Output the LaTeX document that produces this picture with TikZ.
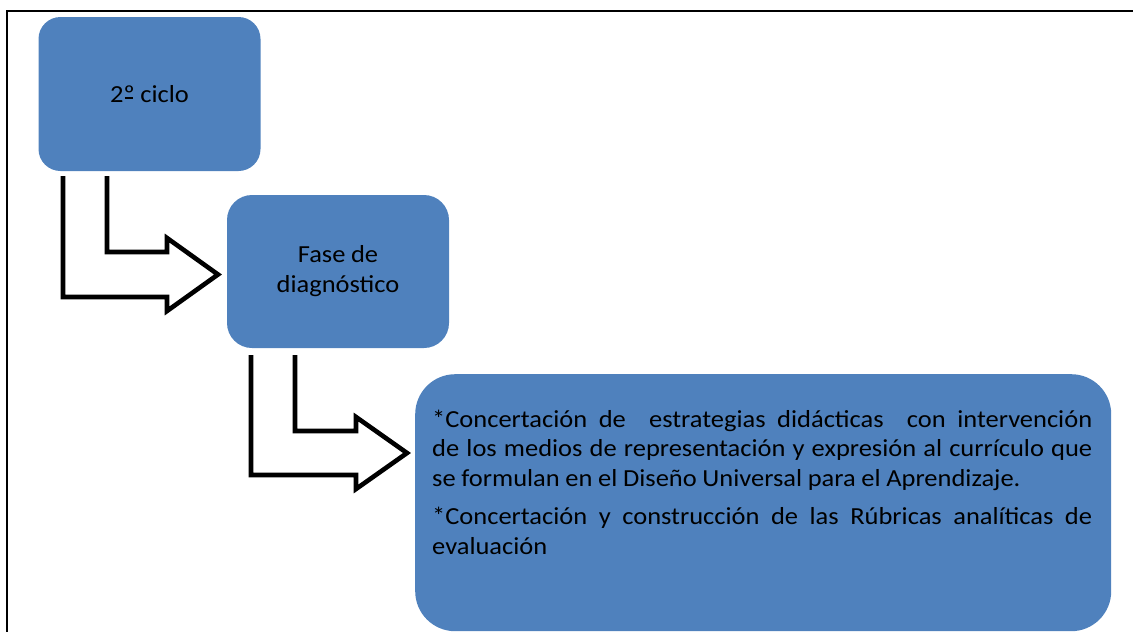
\documentclass[tikz,border=0pt]{standalone}
\usepackage{fontspec}
\setmainfont[FakeStretch=1.08,WordSpace={0.95,1.2,1.6}]{Carlito}
\definecolor{boxblue}{RGB}{79,129,189}
\newcommand{\ordo}{{\setbox0=\hbox{º}\rlap{\copy0}\raisebox{0.15em}{\hspace{0.05em}\rule{\dimexpr\wd0-0.1em\relax}{0.055em}}\hspace{0.05em}}}
\begin{document}
\begin{tikzpicture}[x=1pt,y=-1pt,
  bluebox/.style={fill=boxblue, draw=none, inner sep=0pt, align=center,
    font=\fontsize{24.5}{30}\selectfont},
  bentarrow/.style={draw=black, line width=4.6pt, line join=miter, miter limit=10},
  frameline/.style={draw=black, line width=2.2pt}]
\useasboundingbox (0,0) rectangle (1133,632);
% frame
\draw[frameline] (7,632) -- (7,11) -- (1133,11);
% boxes
\node[bluebox, rounded corners=22pt, minimum width=222pt, minimum height=154pt] (b1) at (149.5,94) {2\ordo{} ciclo};
\node[bluebox, rounded corners=25pt, minimum width=222pt, minimum height=153pt] (b2) at (338,271.5) {Fase de\\diagnóstico};
\node[bluebox, rounded corners=40pt, minimum width=696pt, minimum height=257pt, anchor=north west] (b3) at (415,374) {};
\node[anchor=base west, inner sep=0pt, text width=660pt, align=justify,
  font=\fontsize{24.5}{29.5}\selectfont] (t3) at (432,427)
  {\hyphenpenalty=10000 *Concertación de \ estrategias didácticas \ con intervención\linebreak
   de los medios de representación y expresión al currículo que\linebreak
   se formulan en el Diseño Universal para el Aprendizaje.\par\vspace{9pt}
   *Concertación y construcción de las Rúbricas analíticas de\linebreak evaluación};
% bent arrows
\draw[bentarrow] (63,176) -- (63,297) -- (167,297) -- (167,311) -- (218,274.5)
  -- (167,238) -- (167,252) -- (107,252) -- (107,176);
\draw[bentarrow] (251,355) -- (251,475) -- (356,475) -- (356,489) -- (407,453)
  -- (356,417) -- (356,431) -- (295,431) -- (295,355);
\end{tikzpicture}
\end{document}
